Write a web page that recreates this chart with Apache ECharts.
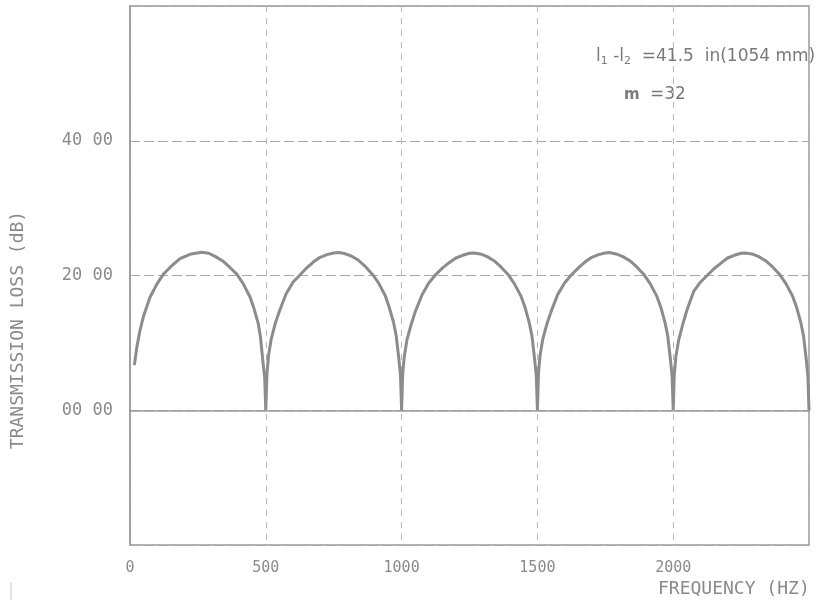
<!DOCTYPE html>
<html>
<head>
<meta charset="utf-8">
<script src="https://cdn.jsdelivr.net/npm/echarts@6/dist/echarts.min.js"></script>
<style>
html,body{margin:0;padding:0;background:#fff;}
#chart{width:817px;height:608px;}
</style>
</head>
<body>
<div id="chart"></div>
<script>
// Frequency (Hz) samples
var freqHz = [
  16,25,37,50,74,100,123,150,184,225,264,290,315,340,365,393,415,442,455,472,480,490,496,500,
  504,510,520,535,550,575,600,624,650,675,700,725,750,768,790,815,840,865,896,915,940,955,970,980,990,996,1000,
  1004,1010,1020,1035,1050,1075,1100,1125,1150,1175,1200,1225,1250,1265,1290,1315,1340,1365,1393,1415,1440,1455,1470,1480,1490,1496,1500,
  1504,1510,1520,1535,1550,1575,1600,1625,1650,1675,1700,1725,1750,1765,1790,1815,1840,1865,1893,1915,1940,1955,1970,1980,1990,1996,2000,
  2004,2010,2020,2035,2050,2075,2100,2125,2150,2175,2200,2225,2250,2265,2290,2315,2340,2365,2393,2415,2440,2455,2470,2480,2490,2496,2500
];
// Transmission loss (dB)
var lossDb = [
  6.7,9.3,11.9,14.0,16.8,18.8,20.2,21.3,22.5,23.2,23.45,23.3,22.8,22.2,21.3,20.2,18.9,16.8,15.3,12.9,11.0,7.0,4.8,0,
  5.2,8.1,10.6,12.9,14.7,17.3,19.0,20.0,21.1,22.0,22.7,23.1,23.35,23.4,23.25,22.9,22.3,21.4,20.0,18.9,17.0,15.2,13.1,11.1,7.6,5.1,0,
  5.4,8.0,10.5,12.7,14.6,17.1,18.9,20.1,21.1,21.9,22.6,23.0,23.3,23.35,23.2,22.8,22.2,21.3,20.1,18.8,16.9,15.2,13.0,11.0,7.5,5.0,0,
  5.5,8.2,10.6,12.8,14.6,17.2,18.9,20.1,21.1,22.0,22.7,23.1,23.35,23.4,23.2,22.8,22.2,21.3,20.1,18.8,16.9,15.2,13.0,11.0,7.5,5.0,0,
  5.3,8.0,10.4,12.7,14.8,17.6,19.0,20.0,21.0,21.8,22.6,23.0,23.3,23.35,23.2,22.8,22.2,21.3,20.1,18.8,16.9,15.2,13.0,11.0,7.5,5.0,0
];
var xTickLabels = {0:'0',500:'500',1000:'1000',1500:'1500',2000:'2000'};
var yTickLabels = {0:'00 00',20:'20 00',40:'40 00'};
var xAxisTitle = 'FREQUENCY (HZ)';
var yAxisTitle = 'TRANSMISSION LOSS (dB)';
var noteLength = '=41.5  in(1054 mm)';
var noteRatio = '=32';

var pts = freqHz.map(function(f,i){ return [f, lossDb[i]]; });
var txt = '#8a8a8a';
var mono = '"DejaVu Sans Mono", monospace';

var chart = echarts.init(document.getElementById('chart'));
chart.setOption({
  animation: false,
  backgroundColor: '#ffffff',
  grid: {left: 130, right: 8, top: 6, bottom: 63, show: true, borderColor: '#9a9a9a', borderWidth: 1.5},
  xAxis: {
    type: 'value', min: 0, max: 2500, interval: 500,
    axisLine: {show: true, lineStyle: {color: '#9a9a9a', width: 1.5}},
    axisTick: {show: false},
    axisLabel: {margin: 16, color: txt, fontFamily: mono, fontSize: 15,
      formatter: function(v){ return xTickLabels[v] !== undefined ? xTickLabels[v] : ''; }},
    splitLine: {show: true, lineStyle: {color: '#b8b8b8', width: 1, type: [6, 6]}}
  },
  yAxis: {
    type: 'value', min: -20, max: 60, interval: 20,
    axisLine: {show: true, lineStyle: {color: '#9a9a9a', width: 1.5}},
    axisTick: {show: false},
    axisLabel: {margin: 17, color: txt, fontFamily: mono, fontSize: 17,
      formatter: function(v){ return yTickLabels[v] !== undefined ? yTickLabels[v] : ''; }},
    splitLine: {show: true, lineStyle: {color: '#a8a8a8', width: 1.2, type: [10, 4]}}
  },
  series: [{
    type: 'line', data: pts, showSymbol: false, smooth: false,
    lineStyle: {color: '#8c8c8c', width: 3}
  }],
  graphic: [
    {type: 'text', x: 18, y: 330, rotation: Math.PI/2, style: {text: yAxisTitle, fill: txt, font: '18px ' + mono, textAlign: 'center', textVerticalAlign: 'middle'}},
    {type: 'text', x: 658, y: 580, style: {text: xAxisTitle, fill: txt, font: '18px ' + mono}},
    {type: 'text', x: 596, y: 46, style: {
      rich: {
        b: {fontSize: 17, fill: '#7a7a7a', fontFamily: '"DejaVu Sans", sans-serif'},
        s: {fontSize: 11, fill: '#7a7a7a', fontFamily: '"DejaVu Sans", sans-serif', padding: [10, 0, 0, 0]}
      },
      text: '{b|l}{s|1}{b| -l}{s|2}{b|  ' + noteLength + '}'
    }},
    {type: 'text', x: 624, y: 88, style: {text: 'm', fill: '#7a7a7a', font: 'bold 15px "DejaVu Sans", sans-serif'}},
    {type: 'text', x: 650, y: 86, style: {text: noteRatio, fill: '#7a7a7a', font: '17px "DejaVu Sans", sans-serif'}},
    {type: 'line', shape: {x1: 11, y1: 582, x2: 11, y2: 600}, style: {stroke: '#c8c8c8', lineWidth: 1}}
  ]
});
</script>
</body>
</html>
